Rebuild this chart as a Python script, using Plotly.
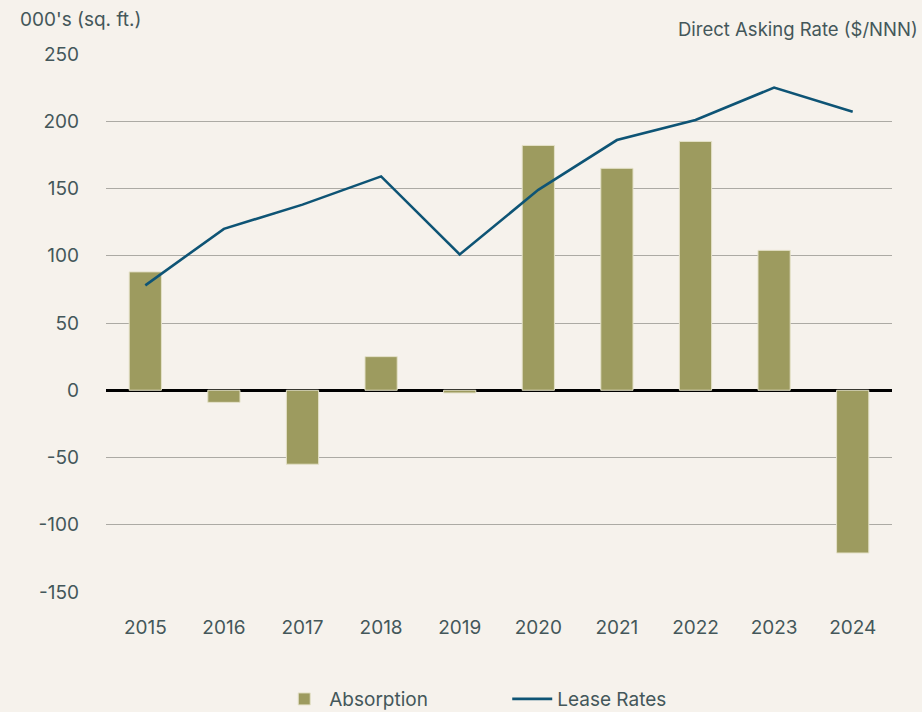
import plotly.graph_objects as go

years = ["2015", "2016", "2017", "2018", "2019", "2020", "2021", "2022", "2023", "2024"]
absorption = [88, -9, -55, 25, -2, 182, 165, 185, 104, -121]
lease_rates = [78, 120, 138, 159, 101, 149, 186, 201, 225, 207]
y_ticks = [-150, -100, -50, 0, 50, 100, 150, 200, 250]
y_tick_labels = ["-150", "-100", "-50", "0", "50", "100", "150", "200", "250"]

bg = "#F6F2EC"
txt = "#44575A"
font = "Inter, Roboto, sans-serif"

fig = go.Figure()
fig.add_trace(go.Bar(
    x=years, y=absorption, name="Absorption",
    marker=dict(color="#9D9B5F", line=dict(color="#E4E1C8", width=1)),
    width=0.41,
))
fig.add_trace(go.Scatter(
    x=years, y=lease_rates, name="Lease Rates", mode="lines",
    line=dict(color="#0E5475", width=2.6), yaxis="y2",
))

fig.update_layout(
    width=922, height=712,
    paper_bgcolor=bg, plot_bgcolor=bg,
    margin=dict(l=106, r=30, t=54, b=120, autoexpand=False),
    font=dict(family=font, size=19, color=txt),
    showlegend=True,
    legend=dict(orientation="h", x=0.2204, xanchor="left", y=-0.199, yanchor="middle",
                entrywidth=173, font=dict(size=19, color=txt), bgcolor="rgba(0,0,0,0)",
                itemwidth=40),
    xaxis=dict(showgrid=False, ticks="", tickfont=dict(size=19, color=txt), ticklabelstandoff=22,
               showline=False, zeroline=False),
    yaxis=dict(range=[-150, 250], tickvals=y_ticks, ticktext=y_tick_labels, showgrid=True,
               gridcolor="#ACAAA4", gridwidth=1.3, zeroline=True, zerolinecolor="#000000",
               zerolinewidth=2.5, tickfont=dict(size=19, color=txt), ticklabelstandoff=26,
               showline=False),
    yaxis2=dict(range=[-150, 250], overlaying="y", side="right", showgrid=False,
                showticklabels=False, zeroline=False),
    bargap=0.59,
    annotations=[
        dict(text="000's (sq. ft.)", xref="paper", yref="paper", x=-0.112, y=1.065,
             xanchor="left", yanchor="middle", showarrow=False, font=dict(size=19, color=txt)),
        dict(text="Direct Asking Rate ($/NNN)", xref="paper", yref="paper", x=1.0356, y=1.0465,
             xanchor="right", yanchor="middle", showarrow=False, font=dict(size=18.5, color=txt)),
    ],
)

fig.write_html("out.html", config={"displayModeBar": False},
               post_script="document.body.style.margin='0';document.body.style.overflow='hidden';")
